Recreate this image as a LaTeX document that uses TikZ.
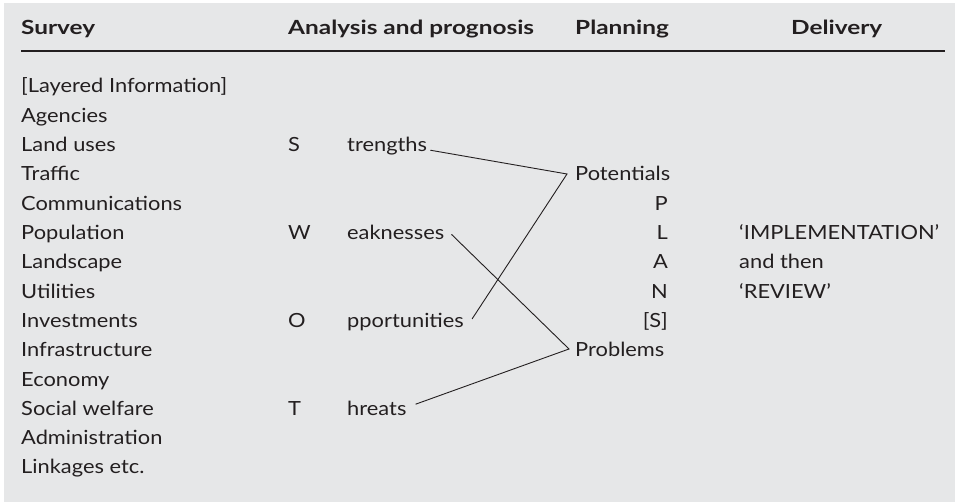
\documentclass[tikz,border=0pt]{standalone}
\usepackage{fontspec}
\setmainfont{Lato}[FakeStretch=1.12, BoldFeatures={FakeStretch=1.25}]
\definecolor{panel}{HTML}{E6E7E8}
\definecolor{ink}{HTML}{231F20}
\tikzset{
  txt/.style={anchor=base west, inner sep=0pt, text=ink},
  head/.style={txt, font=\fontsize{19.5}{23}\selectfont\bfseries},
  link/.style={draw=ink, line width=0.9pt}
}

\begin{document}
\begin{tikzpicture}[x=1pt, y=-1pt, font=\fontsize{19.5}{23}\selectfont]
  \useasboundingbox (0,0) rectangle (955,502);
  \fill[panel] (4,3) rectangle (955,502);
  % column heads
  \node[head] (survey) at (21,35) {Survey};
  \node[head] (analysis) at (288,35) {Analysis and prognosis};
  \node[head] (planning) at (575,35) {Planning};
  \node[head] (delivery) at (791,35) {Delivery};
  \draw[ink, line width=1.2pt] (21,51) -- (945,51);
  % survey items
  \foreach \t [count=\i from 0] in {{[Layered Information]}, Agencies, Land uses, Traffic,
      Communications, Population, Landscape, Utilities, Investments, Infrastructure,
      Economy, Social welfare, Administration, Linkages etc.}
    \node[txt] (sv\i) at (21,93+29.3*\i) {\t};
  % swot
  \foreach \l/\w/\r/\n in {S/trengths/2/str, W/eaknesses/5/weak, O/pportunities/8/opp, T/hreats/11/thr}{
    \node[txt] (\n l) at (288,93+29.3*\r) {\l};
    \node[txt] (\n) at (347,93+29.3*\r) {\w};
  }
  % planning
  \node[txt] (pot) at (575,93+29.3*3) {Potentials};
  \node[txt] (prob) at (575,93+29.3*9) {Problems};
  \foreach \l [count=\i from 4] in {P,L,A,N,[S]}
    \node[txt, anchor=base east] (plan\i) at (668,93+29.3*\i) {\l};
  \coordinate (potv) at (567,174);
  \coordinate (probv) at (569,349);
  % delivery
  \node[txt] (impl) at (739,93+29.3*5) {`IMPLEMENTATION'};
  \node[txt] (then) at (739,93+29.3*6) {and then};
  \node[txt] (rev) at (739,93+29.3*7) {`REVIEW'};
  % links
  \draw[link] ([xshift=3pt,yshift=-4pt]str.east) -- (potv) -- ([xshift=8pt,yshift=3pt]opp.east);
  \draw[link] ([xshift=7pt,yshift=-2pt]weak.east) -- (probv) -- ([xshift=9pt,yshift=4pt]thr.east);
\end{tikzpicture}
\end{document}
